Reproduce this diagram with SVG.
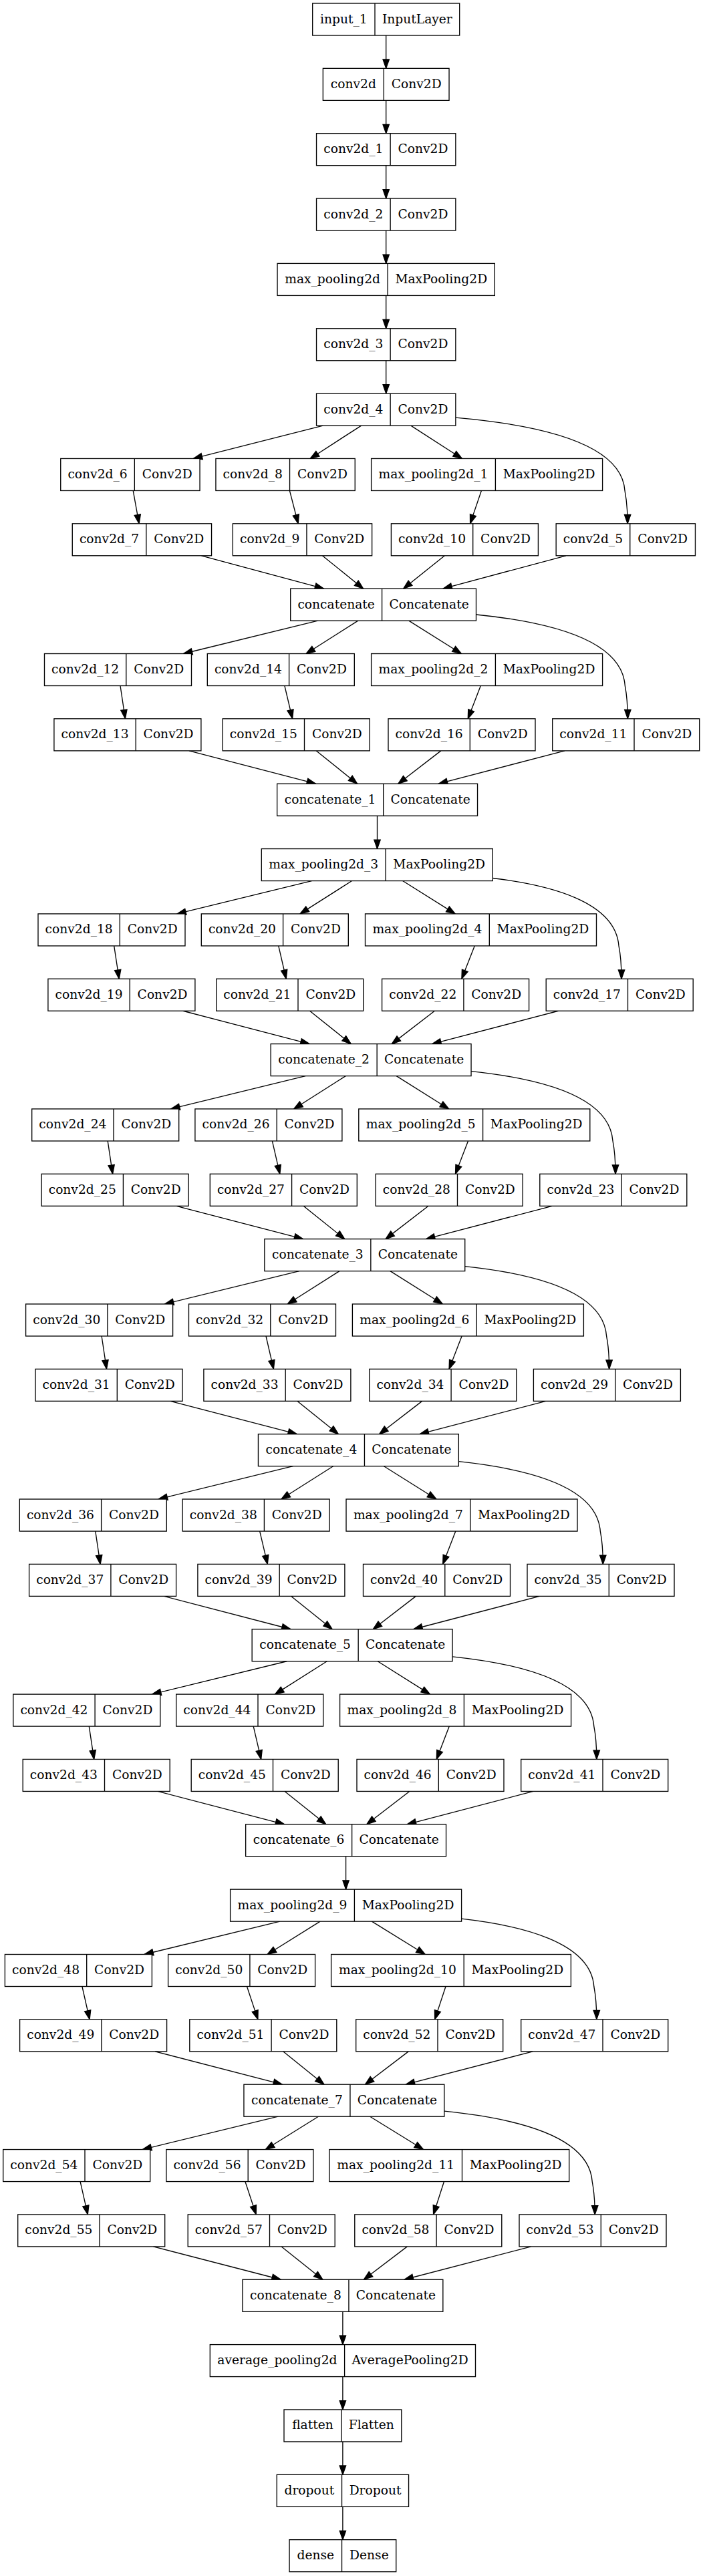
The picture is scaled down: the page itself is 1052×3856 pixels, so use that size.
<svg xmlns="http://www.w3.org/2000/svg" width="1052" height="3856" viewBox="0 0 1052 3856">
<style>
.n rect{fill:#fff;stroke:#000;stroke-width:1.33}
.n line{stroke:#000;stroke-width:1.33}
.n text{font-family:"DejaVu Serif",serif;font-size:18.67px;text-anchor:middle;fill:#000}
#edges line,#edges path{stroke:#000;stroke-width:1.33;fill:none;marker-end:url(#a)}
</style>
<defs>
<marker id="a" markerUnits="userSpaceOnUse" markerWidth="16" markerHeight="12" viewBox="-1 -1 16 12" refX="13.33" refY="4.67" orient="auto" overflow="visible"><path d="M0,0 L13.33,4.67 L0,9.33 Z" fill="#000" stroke="#000" stroke-width="1.33"/></marker>
</defs>
<rect width="1052" height="3856" fill="#fff"/>
<g id="edges">
<line x1="577.7" y1="53" x2="577.7" y2="102.35"/>
<line x1="577.7" y1="150.35" x2="577.7" y2="199.7"/>
<line x1="577.7" y1="247.7" x2="577.7" y2="297.05"/>
<line x1="577.7" y1="345.05" x2="577.7" y2="394.4"/>
<line x1="577.7" y1="442.4" x2="577.7" y2="491.75"/>
<line x1="577.7" y1="539.75" x2="577.7" y2="589.1"/>
<line x1="483.3" y1="637.1" x2="289.3" y2="686.45"/>
<line x1="540.6" y1="637.1" x2="464.2" y2="686.45"/>
<line x1="614.9" y1="637.1" x2="691.4" y2="686.45"/>
<path d="M681.85,625.1 C795,635 930,660 935,734.45 C938,750 939.1,762 939.1,783.8"/>
<line x1="199.2" y1="734.45" x2="208.1" y2="783.8"/>
<line x1="433.4" y1="734.45" x2="446.2" y2="783.8"/>
<line x1="720.4" y1="734.45" x2="703.6" y2="783.8"/>
<line x1="301.4" y1="831.8" x2="484.6" y2="881.15"/>
<line x1="482.4" y1="831.8" x2="543.7" y2="881.15"/>
<line x1="665.4" y1="831.8" x2="603.6" y2="881.15"/>
<line x1="846.9" y1="831.8" x2="663" y2="881.15"/>
<line x1="475.7" y1="929.15" x2="274.4" y2="978.5"/>
<line x1="535.8" y1="929.15" x2="458.1" y2="978.5"/>
<line x1="611.8" y1="929.15" x2="690.4" y2="978.5"/>
<path d="M712.5,920 C812.3,930 930.3,955 935.3,1026.5 C938.3,1042 939.3,1054 939.3,1075.85"/>
<line x1="180" y1="1026.5" x2="187.4" y2="1075.85"/>
<line x1="425.9" y1="1026.5" x2="437.6" y2="1075.85"/>
<line x1="719.3" y1="1026.5" x2="700.3" y2="1075.85"/>
<line x1="283" y1="1123.85" x2="472.5" y2="1173.2"/>
<line x1="473.1" y1="1123.85" x2="534.7" y2="1173.2"/>
<line x1="659.8" y1="1123.85" x2="595.8" y2="1173.2"/>
<line x1="845" y1="1123.85" x2="656.3" y2="1173.2"/>
<line x1="564.5" y1="1221.2" x2="564.5" y2="1270.55"/>
<line x1="466.4" y1="1318.55" x2="264.9" y2="1367.9"/>
<line x1="526.6" y1="1318.55" x2="449" y2="1367.9"/>
<line x1="602.6" y1="1318.55" x2="681.2" y2="1367.9"/>
<path d="M737.3,1314.5 C822.1,1324.5 921,1349.5 926,1415.9 C929,1431 930,1443 930,1465.25"/>
<line x1="170.7" y1="1415.9" x2="178.2" y2="1465.25"/>
<line x1="416.8" y1="1415.9" x2="428.2" y2="1465.25"/>
<line x1="710.2" y1="1415.9" x2="690.9" y2="1465.25"/>
<line x1="273.9" y1="1513.25" x2="463.1" y2="1562.6"/>
<line x1="463.6" y1="1513.25" x2="525.2" y2="1562.6"/>
<line x1="650.4" y1="1513.25" x2="586.3" y2="1562.6"/>
<line x1="835.5" y1="1513.25" x2="646.8" y2="1562.6"/>
<line x1="457.1" y1="1610.6" x2="255.7" y2="1659.95"/>
<line x1="517.3" y1="1610.6" x2="439.7" y2="1659.95"/>
<line x1="593.2" y1="1610.6" x2="671.7" y2="1659.95"/>
<path d="M705.05,1603.6 C800.1,1613.6 912,1638.6 917,1707.95 C920,1723 921,1735 921,1757.3"/>
<line x1="161.2" y1="1707.95" x2="168.6" y2="1757.3"/>
<line x1="407.4" y1="1707.95" x2="418.8" y2="1757.3"/>
<line x1="700.5" y1="1707.95" x2="681.5" y2="1757.3"/>
<line x1="264.2" y1="1805.3" x2="453.7" y2="1854.65"/>
<line x1="454.2" y1="1805.3" x2="515.8" y2="1854.65"/>
<line x1="641" y1="1805.3" x2="577" y2="1854.65"/>
<line x1="826.1" y1="1805.3" x2="637.5" y2="1854.65"/>
<line x1="447.9" y1="1902.65" x2="246.5" y2="1952"/>
<line x1="508" y1="1902.65" x2="430.3" y2="1952"/>
<line x1="583.9" y1="1902.65" x2="662.3" y2="1952"/>
<path d="M695.75,1895.6 C790.7,1905.6 902.6,1930.6 907.6,2000 C910.6,2015 911.6,2027 911.6,2049.35"/>
<line x1="152.1" y1="2000" x2="159.5" y2="2049.35"/>
<line x1="398" y1="2000" x2="409.4" y2="2049.35"/>
<line x1="691.1" y1="2000" x2="672.1" y2="2049.35"/>
<line x1="255" y1="2097.35" x2="444.4" y2="2146.7"/>
<line x1="444.8" y1="2097.35" x2="506.4" y2="2146.7"/>
<line x1="631.6" y1="2097.35" x2="567.6" y2="2146.7"/>
<line x1="816.7" y1="2097.35" x2="628.1" y2="2146.7"/>
<line x1="438.5" y1="2194.7" x2="237.2" y2="2244.05"/>
<line x1="498.6" y1="2194.7" x2="420.9" y2="2244.05"/>
<line x1="574.5" y1="2194.7" x2="652.9" y2="2244.05"/>
<path d="M686.35,2187.7 C781.4,2197.7 893.3,2222.7 898.3,2292.05 C901.3,2307 902.3,2319 902.3,2341.4"/>
<line x1="142.8" y1="2292.05" x2="150.1" y2="2341.4"/>
<line x1="388.7" y1="2292.05" x2="400.3" y2="2341.4"/>
<line x1="681.8" y1="2292.05" x2="662.7" y2="2341.4"/>
<line x1="245.7" y1="2389.4" x2="435" y2="2438.75"/>
<line x1="435.8" y1="2389.4" x2="497.2" y2="2438.75"/>
<line x1="622.3" y1="2389.4" x2="558.3" y2="2438.75"/>
<line x1="807.3" y1="2389.4" x2="618.8" y2="2438.75"/>
<line x1="429.2" y1="2486.75" x2="227.7" y2="2536.1"/>
<line x1="489.3" y1="2486.75" x2="411.5" y2="2536.1"/>
<line x1="565.2" y1="2486.75" x2="643.5" y2="2536.1"/>
<path d="M677.05,2479.8 C772,2489.8 883.8,2514.8 888.8,2584.1 C891.8,2599 892.8,2611 892.8,2633.45"/>
<line x1="133.3" y1="2584.1" x2="140.7" y2="2633.45"/>
<line x1="379.2" y1="2584.1" x2="390.7" y2="2633.45"/>
<line x1="672.3" y1="2584.1" x2="653.3" y2="2633.45"/>
<line x1="236.2" y1="2681.45" x2="425.6" y2="2730.8"/>
<line x1="426.1" y1="2681.45" x2="487.7" y2="2730.8"/>
<line x1="612.8" y1="2681.45" x2="548.8" y2="2730.8"/>
<line x1="798" y1="2681.45" x2="609.3" y2="2730.8"/>
<line x1="517.6" y1="2778.8" x2="517.6" y2="2828.15"/>
<line x1="418.9" y1="2876.15" x2="216" y2="2925.5"/>
<line x1="479.1" y1="2876.15" x2="400.1" y2="2925.5"/>
<line x1="556.4" y1="2876.15" x2="636.2" y2="2925.5"/>
<path d="M690.6,2872.2 C779.6,2882.2 883.8,2907.2 888.8,2973.5 C891.8,2989 892.8,3001 892.8,3022.85"/>
<line x1="122.9" y1="2973.5" x2="134.1" y2="3022.85"/>
<line x1="369.5" y1="2973.5" x2="385.9" y2="3022.85"/>
<line x1="667" y1="2973.5" x2="650.7" y2="3022.85"/>
<line x1="232.1" y1="3070.85" x2="422.4" y2="3120.2"/>
<line x1="423.7" y1="3070.85" x2="485" y2="3120.2"/>
<line x1="611.2" y1="3070.85" x2="546.4" y2="3120.2"/>
<line x1="797.3" y1="3070.85" x2="607.3" y2="3120.2"/>
<line x1="416.2" y1="3168.2" x2="213.3" y2="3217.55"/>
<line x1="476.4" y1="3168.2" x2="397.4" y2="3217.55"/>
<line x1="553.7" y1="3168.2" x2="633.5" y2="3217.55"/>
<path d="M664.85,3160.2 C764,3170.2 881.2,3195.2 886.2,3265.55 C889.2,3281 890.2,3293 890.2,3314.9"/>
<line x1="120.1" y1="3265.55" x2="131.3" y2="3314.9"/>
<line x1="366.9" y1="3265.55" x2="383.2" y2="3314.9"/>
<line x1="664.5" y1="3265.55" x2="648.6" y2="3314.9"/>
<line x1="229.4" y1="3362.9" x2="420.2" y2="3412.25"/>
<line x1="421.2" y1="3362.9" x2="482.9" y2="3412.25"/>
<line x1="609.3" y1="3362.9" x2="544.4" y2="3412.25"/>
<line x1="794.8" y1="3362.9" x2="605.1" y2="3412.25"/>
<line x1="512.9" y1="3460.25" x2="512.9" y2="3509.6"/>
<line x1="512.9" y1="3557.6" x2="512.9" y2="3606.95"/>
<line x1="512.9" y1="3654.95" x2="512.9" y2="3704.3"/>
<line x1="512.9" y1="3752.3" x2="512.9" y2="3801.65"/>
</g>
<g id="input_1" class="n" transform="translate(467.7,5)"><rect width="220" height="48"/><line x1="93.3" x2="93.3" y2="48"/><text x="46.65" y="29.5">input_1</text><text x="156.65" y="29.5">InputLayer</text></g>
<g id="conv2d" class="n" transform="translate(483.35,102.35)"><rect width="188.7" height="48"/><line x1="91" x2="91" y2="48"/><text x="45.5" y="29.5">conv2d</text><text x="139.85" y="29.5">Conv2D</text></g>
<g id="conv2d_1" class="n" transform="translate(473.55,199.7)"><rect width="208.3" height="48"/><line x1="110.6" x2="110.6" y2="48"/><text x="55.3" y="29.5">conv2d_1</text><text x="159.45" y="29.5">Conv2D</text></g>
<g id="conv2d_2" class="n" transform="translate(473.55,297.05)"><rect width="208.3" height="48"/><line x1="110.6" x2="110.6" y2="48"/><text x="55.3" y="29.5">conv2d_2</text><text x="159.45" y="29.5">Conv2D</text></g>
<g id="max_pooling2d" class="n" transform="translate(415.05,394.4)"><rect width="325.3" height="48"/><line x1="165.1" x2="165.1" y2="48"/><text x="82.55" y="29.5">max_pooling2d</text><text x="245.2" y="29.5">MaxPooling2D</text></g>
<g id="conv2d_3" class="n" transform="translate(473.55,491.75)"><rect width="208.3" height="48"/><line x1="110.6" x2="110.6" y2="48"/><text x="55.3" y="29.5">conv2d_3</text><text x="159.45" y="29.5">Conv2D</text></g>
<g id="conv2d_4" class="n" transform="translate(473.55,589.1)"><rect width="208.3" height="48"/><line x1="110.6" x2="110.6" y2="48"/><text x="55.3" y="29.5">conv2d_4</text><text x="159.45" y="29.5">Conv2D</text></g>
<g id="conv2d_6" class="n" transform="translate(90.75,686.45)"><rect width="208.3" height="48"/><line x1="110.6" x2="110.6" y2="48"/><text x="55.3" y="29.5">conv2d_6</text><text x="159.45" y="29.5">Conv2D</text></g>
<g id="conv2d_8" class="n" transform="translate(322.95,686.45)"><rect width="208.3" height="48"/><line x1="110.6" x2="110.6" y2="48"/><text x="55.3" y="29.5">conv2d_8</text><text x="159.45" y="29.5">Conv2D</text></g>
<g id="max_pooling2d_1" class="n" transform="translate(555.6,686.45)"><rect width="346" height="48"/><line x1="185.8" x2="185.8" y2="48"/><text x="92.9" y="29.5">max_pooling2d_1</text><text x="265.9" y="29.5">MaxPooling2D</text></g>
<g id="conv2d_7" class="n" transform="translate(108.25,783.8)"><rect width="208.3" height="48"/><line x1="110.6" x2="110.6" y2="48"/><text x="55.3" y="29.5">conv2d_7</text><text x="159.45" y="29.5">Conv2D</text></g>
<g id="conv2d_9" class="n" transform="translate(348.35,783.8)"><rect width="208.3" height="48"/><line x1="110.6" x2="110.6" y2="48"/><text x="55.3" y="29.5">conv2d_9</text><text x="159.45" y="29.5">Conv2D</text></g>
<g id="conv2d_10" class="n" transform="translate(585.4,783.8)"><rect width="220" height="48"/><line x1="122.3" x2="122.3" y2="48"/><text x="61.15" y="29.5">conv2d_10</text><text x="171.15" y="29.5">Conv2D</text></g>
<g id="conv2d_5" class="n" transform="translate(832.15,783.8)"><rect width="208.3" height="48"/><line x1="110.6" x2="110.6" y2="48"/><text x="55.3" y="29.5">conv2d_5</text><text x="159.45" y="29.5">Conv2D</text></g>
<g id="concatenate" class="n" transform="translate(434.7,881.15)"><rect width="277.8" height="48"/><line x1="136.9" x2="136.9" y2="48"/><text x="68.45" y="29.5">concatenate</text><text x="207.35" y="29.5">Concatenate</text></g>
<g id="conv2d_12" class="n" transform="translate(66.5,978.5)"><rect width="220" height="48"/><line x1="122.3" x2="122.3" y2="48"/><text x="61.15" y="29.5">conv2d_12</text><text x="171.15" y="29.5">Conv2D</text></g>
<g id="conv2d_14" class="n" transform="translate(310.3,978.5)"><rect width="220" height="48"/><line x1="122.3" x2="122.3" y2="48"/><text x="61.15" y="29.5">conv2d_14</text><text x="171.15" y="29.5">Conv2D</text></g>
<g id="max_pooling2d_2" class="n" transform="translate(555.6,978.5)"><rect width="346" height="48"/><line x1="185.8" x2="185.8" y2="48"/><text x="92.9" y="29.5">max_pooling2d_2</text><text x="265.9" y="29.5">MaxPooling2D</text></g>
<g id="conv2d_13" class="n" transform="translate(80.9,1075.85)"><rect width="220" height="48"/><line x1="122.3" x2="122.3" y2="48"/><text x="61.15" y="29.5">conv2d_13</text><text x="171.15" y="29.5">Conv2D</text></g>
<g id="conv2d_15" class="n" transform="translate(333.2,1075.85)"><rect width="220" height="48"/><line x1="122.3" x2="122.3" y2="48"/><text x="61.15" y="29.5">conv2d_15</text><text x="171.15" y="29.5">Conv2D</text></g>
<g id="conv2d_16" class="n" transform="translate(581,1075.85)"><rect width="220" height="48"/><line x1="122.3" x2="122.3" y2="48"/><text x="61.15" y="29.5">conv2d_16</text><text x="171.15" y="29.5">Conv2D</text></g>
<g id="conv2d_11" class="n" transform="translate(826.7,1075.85)"><rect width="220" height="48"/><line x1="122.3" x2="122.3" y2="48"/><text x="61.15" y="29.5">conv2d_11</text><text x="171.15" y="29.5">Conv2D</text></g>
<g id="concatenate_1" class="n" transform="translate(414.65,1173.2)"><rect width="299.9" height="48"/><line x1="159" x2="159" y2="48"/><text x="79.5" y="29.5">concatenate_1</text><text x="229.45" y="29.5">Concatenate</text></g>
<g id="max_pooling2d_3" class="n" transform="translate(391.3,1270.55)"><rect width="346" height="48"/><line x1="185.8" x2="185.8" y2="48"/><text x="92.9" y="29.5">max_pooling2d_3</text><text x="265.9" y="29.5">MaxPooling2D</text></g>
<g id="conv2d_18" class="n" transform="translate(57,1367.9)"><rect width="220" height="48"/><line x1="122.3" x2="122.3" y2="48"/><text x="61.15" y="29.5">conv2d_18</text><text x="171.15" y="29.5">Conv2D</text></g>
<g id="conv2d_20" class="n" transform="translate(301.3,1367.9)"><rect width="220" height="48"/><line x1="122.3" x2="122.3" y2="48"/><text x="61.15" y="29.5">conv2d_20</text><text x="171.15" y="29.5">Conv2D</text></g>
<g id="max_pooling2d_4" class="n" transform="translate(546.5,1367.9)"><rect width="346" height="48"/><line x1="185.8" x2="185.8" y2="48"/><text x="92.9" y="29.5">max_pooling2d_4</text><text x="265.9" y="29.5">MaxPooling2D</text></g>
<g id="conv2d_19" class="n" transform="translate(71.9,1465.25)"><rect width="220" height="48"/><line x1="122.3" x2="122.3" y2="48"/><text x="61.15" y="29.5">conv2d_19</text><text x="171.15" y="29.5">Conv2D</text></g>
<g id="conv2d_21" class="n" transform="translate(323.7,1465.25)"><rect width="220" height="48"/><line x1="122.3" x2="122.3" y2="48"/><text x="61.15" y="29.5">conv2d_21</text><text x="171.15" y="29.5">Conv2D</text></g>
<g id="conv2d_22" class="n" transform="translate(571.6,1465.25)"><rect width="220" height="48"/><line x1="122.3" x2="122.3" y2="48"/><text x="61.15" y="29.5">conv2d_22</text><text x="171.15" y="29.5">Conv2D</text></g>
<g id="conv2d_17" class="n" transform="translate(817.2,1465.25)"><rect width="220" height="48"/><line x1="122.3" x2="122.3" y2="48"/><text x="61.15" y="29.5">conv2d_17</text><text x="171.15" y="29.5">Conv2D</text></g>
<g id="concatenate_2" class="n" transform="translate(405.15,1562.6)"><rect width="299.9" height="48"/><line x1="159" x2="159" y2="48"/><text x="79.5" y="29.5">concatenate_2</text><text x="229.45" y="29.5">Concatenate</text></g>
<g id="conv2d_24" class="n" transform="translate(47.7,1659.95)"><rect width="220" height="48"/><line x1="122.3" x2="122.3" y2="48"/><text x="61.15" y="29.5">conv2d_24</text><text x="171.15" y="29.5">Conv2D</text></g>
<g id="conv2d_26" class="n" transform="translate(291.9,1659.95)"><rect width="220" height="48"/><line x1="122.3" x2="122.3" y2="48"/><text x="61.15" y="29.5">conv2d_26</text><text x="171.15" y="29.5">Conv2D</text></g>
<g id="max_pooling2d_5" class="n" transform="translate(536.8,1659.95)"><rect width="346" height="48"/><line x1="185.8" x2="185.8" y2="48"/><text x="92.9" y="29.5">max_pooling2d_5</text><text x="265.9" y="29.5">MaxPooling2D</text></g>
<g id="conv2d_25" class="n" transform="translate(62.1,1757.3)"><rect width="220" height="48"/><line x1="122.3" x2="122.3" y2="48"/><text x="61.15" y="29.5">conv2d_25</text><text x="171.15" y="29.5">Conv2D</text></g>
<g id="conv2d_27" class="n" transform="translate(314.3,1757.3)"><rect width="220" height="48"/><line x1="122.3" x2="122.3" y2="48"/><text x="61.15" y="29.5">conv2d_27</text><text x="171.15" y="29.5">Conv2D</text></g>
<g id="conv2d_28" class="n" transform="translate(562.2,1757.3)"><rect width="220" height="48"/><line x1="122.3" x2="122.3" y2="48"/><text x="61.15" y="29.5">conv2d_28</text><text x="171.15" y="29.5">Conv2D</text></g>
<g id="conv2d_23" class="n" transform="translate(807.8,1757.3)"><rect width="220" height="48"/><line x1="122.3" x2="122.3" y2="48"/><text x="61.15" y="29.5">conv2d_23</text><text x="171.15" y="29.5">Conv2D</text></g>
<g id="concatenate_3" class="n" transform="translate(395.85,1854.65)"><rect width="299.9" height="48"/><line x1="159" x2="159" y2="48"/><text x="79.5" y="29.5">concatenate_3</text><text x="229.45" y="29.5">Concatenate</text></g>
<g id="conv2d_30" class="n" transform="translate(38.6,1952)"><rect width="220" height="48"/><line x1="122.3" x2="122.3" y2="48"/><text x="61.15" y="29.5">conv2d_30</text><text x="171.15" y="29.5">Conv2D</text></g>
<g id="conv2d_32" class="n" transform="translate(282.5,1952)"><rect width="220" height="48"/><line x1="122.3" x2="122.3" y2="48"/><text x="61.15" y="29.5">conv2d_32</text><text x="171.15" y="29.5">Conv2D</text></g>
<g id="max_pooling2d_6" class="n" transform="translate(527.4,1952)"><rect width="346" height="48"/><line x1="185.8" x2="185.8" y2="48"/><text x="92.9" y="29.5">max_pooling2d_6</text><text x="265.9" y="29.5">MaxPooling2D</text></g>
<g id="conv2d_31" class="n" transform="translate(53,2049.35)"><rect width="220" height="48"/><line x1="122.3" x2="122.3" y2="48"/><text x="61.15" y="29.5">conv2d_31</text><text x="171.15" y="29.5">Conv2D</text></g>
<g id="conv2d_33" class="n" transform="translate(304.9,2049.35)"><rect width="220" height="48"/><line x1="122.3" x2="122.3" y2="48"/><text x="61.15" y="29.5">conv2d_33</text><text x="171.15" y="29.5">Conv2D</text></g>
<g id="conv2d_34" class="n" transform="translate(552.8,2049.35)"><rect width="220" height="48"/><line x1="122.3" x2="122.3" y2="48"/><text x="61.15" y="29.5">conv2d_34</text><text x="171.15" y="29.5">Conv2D</text></g>
<g id="conv2d_29" class="n" transform="translate(798.4,2049.35)"><rect width="220" height="48"/><line x1="122.3" x2="122.3" y2="48"/><text x="61.15" y="29.5">conv2d_29</text><text x="171.15" y="29.5">Conv2D</text></g>
<g id="concatenate_4" class="n" transform="translate(386.45,2146.7)"><rect width="299.9" height="48"/><line x1="159" x2="159" y2="48"/><text x="79.5" y="29.5">concatenate_4</text><text x="229.45" y="29.5">Concatenate</text></g>
<g id="conv2d_36" class="n" transform="translate(29.3,2244.05)"><rect width="220" height="48"/><line x1="122.3" x2="122.3" y2="48"/><text x="61.15" y="29.5">conv2d_36</text><text x="171.15" y="29.5">Conv2D</text></g>
<g id="conv2d_38" class="n" transform="translate(273.1,2244.05)"><rect width="220" height="48"/><line x1="122.3" x2="122.3" y2="48"/><text x="61.15" y="29.5">conv2d_38</text><text x="171.15" y="29.5">Conv2D</text></g>
<g id="max_pooling2d_7" class="n" transform="translate(518,2244.05)"><rect width="346" height="48"/><line x1="185.8" x2="185.8" y2="48"/><text x="92.9" y="29.5">max_pooling2d_7</text><text x="265.9" y="29.5">MaxPooling2D</text></g>
<g id="conv2d_37" class="n" transform="translate(43.6,2341.4)"><rect width="220" height="48"/><line x1="122.3" x2="122.3" y2="48"/><text x="61.15" y="29.5">conv2d_37</text><text x="171.15" y="29.5">Conv2D</text></g>
<g id="conv2d_39" class="n" transform="translate(295.9,2341.4)"><rect width="220" height="48"/><line x1="122.3" x2="122.3" y2="48"/><text x="61.15" y="29.5">conv2d_39</text><text x="171.15" y="29.5">Conv2D</text></g>
<g id="conv2d_40" class="n" transform="translate(543.5,2341.4)"><rect width="220" height="48"/><line x1="122.3" x2="122.3" y2="48"/><text x="61.15" y="29.5">conv2d_40</text><text x="171.15" y="29.5">Conv2D</text></g>
<g id="conv2d_35" class="n" transform="translate(789,2341.4)"><rect width="220" height="48"/><line x1="122.3" x2="122.3" y2="48"/><text x="61.15" y="29.5">conv2d_35</text><text x="171.15" y="29.5">Conv2D</text></g>
<g id="concatenate_5" class="n" transform="translate(377.15,2438.75)"><rect width="299.9" height="48"/><line x1="159" x2="159" y2="48"/><text x="79.5" y="29.5">concatenate_5</text><text x="229.45" y="29.5">Concatenate</text></g>
<g id="conv2d_42" class="n" transform="translate(19.8,2536.1)"><rect width="220" height="48"/><line x1="122.3" x2="122.3" y2="48"/><text x="61.15" y="29.5">conv2d_42</text><text x="171.15" y="29.5">Conv2D</text></g>
<g id="conv2d_44" class="n" transform="translate(263.7,2536.1)"><rect width="220" height="48"/><line x1="122.3" x2="122.3" y2="48"/><text x="61.15" y="29.5">conv2d_44</text><text x="171.15" y="29.5">Conv2D</text></g>
<g id="max_pooling2d_8" class="n" transform="translate(508.6,2536.1)"><rect width="346" height="48"/><line x1="185.8" x2="185.8" y2="48"/><text x="92.9" y="29.5">max_pooling2d_8</text><text x="265.9" y="29.5">MaxPooling2D</text></g>
<g id="conv2d_43" class="n" transform="translate(34.2,2633.45)"><rect width="220" height="48"/><line x1="122.3" x2="122.3" y2="48"/><text x="61.15" y="29.5">conv2d_43</text><text x="171.15" y="29.5">Conv2D</text></g>
<g id="conv2d_45" class="n" transform="translate(286.2,2633.45)"><rect width="220" height="48"/><line x1="122.3" x2="122.3" y2="48"/><text x="61.15" y="29.5">conv2d_45</text><text x="171.15" y="29.5">Conv2D</text></g>
<g id="conv2d_46" class="n" transform="translate(534,2633.45)"><rect width="220" height="48"/><line x1="122.3" x2="122.3" y2="48"/><text x="61.15" y="29.5">conv2d_46</text><text x="171.15" y="29.5">Conv2D</text></g>
<g id="conv2d_41" class="n" transform="translate(779.7,2633.45)"><rect width="220" height="48"/><line x1="122.3" x2="122.3" y2="48"/><text x="61.15" y="29.5">conv2d_41</text><text x="171.15" y="29.5">Conv2D</text></g>
<g id="concatenate_6" class="n" transform="translate(367.65,2730.8)"><rect width="299.9" height="48"/><line x1="159" x2="159" y2="48"/><text x="79.5" y="29.5">concatenate_6</text><text x="229.45" y="29.5">Concatenate</text></g>
<g id="max_pooling2d_9" class="n" transform="translate(344.6,2828.15)"><rect width="346" height="48"/><line x1="185.8" x2="185.8" y2="48"/><text x="92.9" y="29.5">max_pooling2d_9</text><text x="265.9" y="29.5">MaxPooling2D</text></g>
<g id="conv2d_48" class="n" transform="translate(7.4,2925.5)"><rect width="220" height="48"/><line x1="122.3" x2="122.3" y2="48"/><text x="61.15" y="29.5">conv2d_48</text><text x="171.15" y="29.5">Conv2D</text></g>
<g id="conv2d_50" class="n" transform="translate(251.6,2925.5)"><rect width="220" height="48"/><line x1="122.3" x2="122.3" y2="48"/><text x="61.15" y="29.5">conv2d_50</text><text x="171.15" y="29.5">Conv2D</text></g>
<g id="max_pooling2d_10" class="n" transform="translate(495.6,2925.5)"><rect width="358.8" height="48"/><line x1="198.6" x2="198.6" y2="48"/><text x="99.3" y="29.5">max_pooling2d_10</text><text x="278.7" y="29.5">MaxPooling2D</text></g>
<g id="conv2d_49" class="n" transform="translate(29.6,3022.85)"><rect width="220" height="48"/><line x1="122.3" x2="122.3" y2="48"/><text x="61.15" y="29.5">conv2d_49</text><text x="171.15" y="29.5">Conv2D</text></g>
<g id="conv2d_51" class="n" transform="translate(283.8,3022.85)"><rect width="220" height="48"/><line x1="122.3" x2="122.3" y2="48"/><text x="61.15" y="29.5">conv2d_51</text><text x="171.15" y="29.5">Conv2D</text></g>
<g id="conv2d_52" class="n" transform="translate(532.7,3022.85)"><rect width="220" height="48"/><line x1="122.3" x2="122.3" y2="48"/><text x="61.15" y="29.5">conv2d_52</text><text x="171.15" y="29.5">Conv2D</text></g>
<g id="conv2d_47" class="n" transform="translate(779.7,3022.85)"><rect width="220" height="48"/><line x1="122.3" x2="122.3" y2="48"/><text x="61.15" y="29.5">conv2d_47</text><text x="171.15" y="29.5">Conv2D</text></g>
<g id="concatenate_7" class="n" transform="translate(364.95,3120.2)"><rect width="299.9" height="48"/><line x1="159" x2="159" y2="48"/><text x="79.5" y="29.5">concatenate_7</text><text x="229.45" y="29.5">Concatenate</text></g>
<g id="conv2d_54" class="n" transform="translate(4.7,3217.55)"><rect width="220" height="48"/><line x1="122.3" x2="122.3" y2="48"/><text x="61.15" y="29.5">conv2d_54</text><text x="171.15" y="29.5">Conv2D</text></g>
<g id="conv2d_56" class="n" transform="translate(248.9,3217.55)"><rect width="220" height="48"/><line x1="122.3" x2="122.3" y2="48"/><text x="61.15" y="29.5">conv2d_56</text><text x="171.15" y="29.5">Conv2D</text></g>
<g id="max_pooling2d_11" class="n" transform="translate(492.9,3217.55)"><rect width="358.8" height="48"/><line x1="198.6" x2="198.6" y2="48"/><text x="99.3" y="29.5">max_pooling2d_11</text><text x="278.7" y="29.5">MaxPooling2D</text></g>
<g id="conv2d_55" class="n" transform="translate(26.7,3314.9)"><rect width="220" height="48"/><line x1="122.3" x2="122.3" y2="48"/><text x="61.15" y="29.5">conv2d_55</text><text x="171.15" y="29.5">Conv2D</text></g>
<g id="conv2d_57" class="n" transform="translate(281.2,3314.9)"><rect width="220" height="48"/><line x1="122.3" x2="122.3" y2="48"/><text x="61.15" y="29.5">conv2d_57</text><text x="171.15" y="29.5">Conv2D</text></g>
<g id="conv2d_58" class="n" transform="translate(530.8,3314.9)"><rect width="220" height="48"/><line x1="122.3" x2="122.3" y2="48"/><text x="61.15" y="29.5">conv2d_58</text><text x="171.15" y="29.5">Conv2D</text></g>
<g id="conv2d_53" class="n" transform="translate(777,3314.9)"><rect width="220" height="48"/><line x1="122.3" x2="122.3" y2="48"/><text x="61.15" y="29.5">conv2d_53</text><text x="171.15" y="29.5">Conv2D</text></g>
<g id="concatenate_8" class="n" transform="translate(362.95,3412.25)"><rect width="299.9" height="48"/><line x1="159" x2="159" y2="48"/><text x="79.5" y="29.5">concatenate_8</text><text x="229.45" y="29.5">Concatenate</text></g>
<g id="average_pooling2d" class="n" transform="translate(314.3,3509.6)"><rect width="397.2" height="48"/><line x1="201.3" x2="201.3" y2="48"/><text x="100.65" y="29.5">average_pooling2d</text><text x="299.25" y="29.5">AveragePooling2D</text></g>
<g id="flatten" class="n" transform="translate(425,3606.95)"><rect width="175.8" height="48"/><line x1="85.9" x2="85.9" y2="48"/><text x="42.95" y="29.5">flatten</text><text x="130.85" y="29.5">Flatten</text></g>
<g id="dropout" class="n" transform="translate(414.25,3704.3)"><rect width="197.3" height="48"/><line x1="97.3" x2="97.3" y2="48"/><text x="48.65" y="29.5">dropout</text><text x="147.3" y="29.5">Dropout</text></g>
<g id="dense" class="n" transform="translate(433.05,3801.65)"><rect width="159.7" height="48"/><line x1="78.5" x2="78.5" y2="48"/><text x="39.25" y="29.5">dense</text><text x="119.35" y="29.5">Dense</text></g>
</svg>
